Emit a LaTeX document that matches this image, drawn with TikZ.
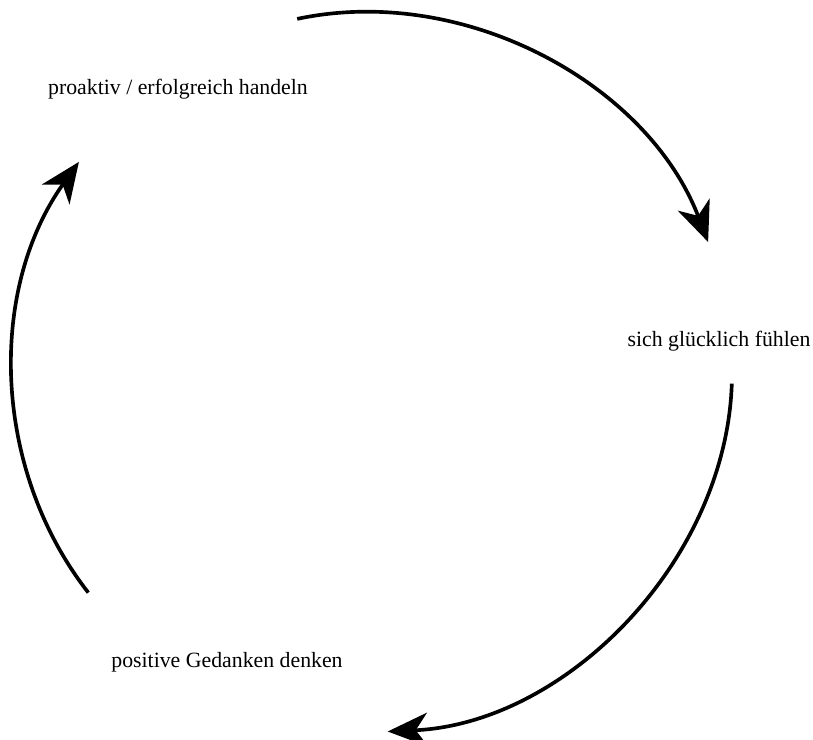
\documentclass[tikz,border=0pt]{standalone}
\usepackage{fontspec}
\setmainfont{Liberation Serif}
\usetikzlibrary{arrows.meta}
\begin{document}
\begin{tikzpicture}[x=0.025cm,y=-0.025cm,
% common options for the texts:
phrase/.style = {anchor=base, inner sep=0, font=\fontsize{15.5}{18}\selectfont},
% common options for the arcs:
loopline/.style = {line width=2.6pt, looseness=0.93,
            -{Stealth[length=1cm,width=0.85cm,inset=0.3cm]}}]
\useasboundingbox (0,0) rectangle (813,740);
\node[phrase] (P) at (178,95) {proaktiv / erfolgreich handeln};
\node[phrase] (F) at (719,347) {sich glücklich fühlen};
\node[phrase] (G) at (227,667) {positive Gedanken denken};
\coordinate (P1) at (297.2,18.9);
\coordinate (F0) at (708.1,242);
\coordinate (F1) at (731.8,383.6);
\coordinate (G0) at (387.7,731.5);
\coordinate (G1) at (88.3,592.6);
\coordinate (P0) at (78.9,161.9);
\draw[loopline] (P1) to[bend left=40.5] (F0);
\draw[loopline] (F1) to[bend left=42.75] (G0);
\draw[loopline] (G1) to[bend left=36.75] (P0);
\end{tikzpicture}
\end{document}
